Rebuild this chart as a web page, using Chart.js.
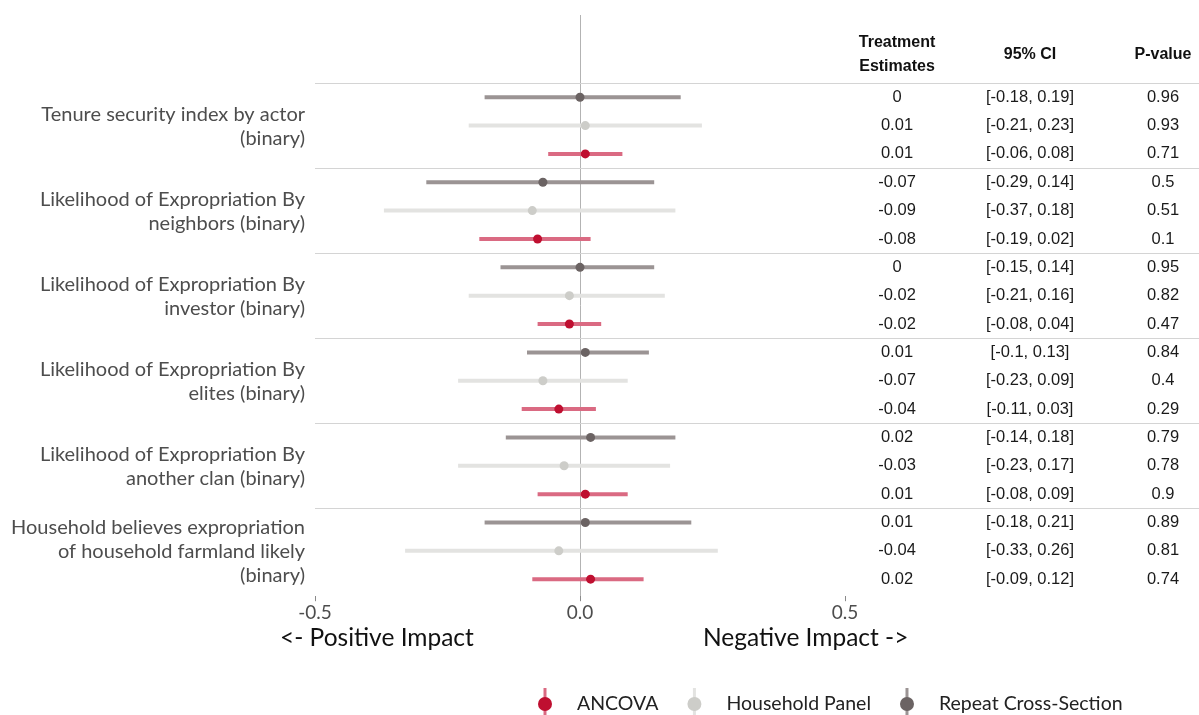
<!DOCTYPE html>
<html lang="en">
<head>
<meta charset="UTF-8">
<title>Treatment estimates</title>
<style>
  html, body { margin: 0; padding: 0; background: #fff; }
  #wrap { width: 1199px; height: 715px; position: relative; }
</style>
</head>
<body>
<div id="wrap"><canvas id="forest"></canvas></div>
<script src="https://cdn.jsdelivr.net/npm/chart.js"></script>
<script>
// outcomes, top to bottom (label lines)
const outcomes = [
  ['Tenure security index by actor', '(binary)'],
  ['Likelihood of Expropriation By', 'neighbors (binary)'],
  ['Likelihood of Expropriation By', 'investor (binary)'],
  ['Likelihood of Expropriation By', 'elites (binary)'],
  ['Likelihood of Expropriation By', 'another clan (binary)'],
  ['Household believes expropriation', 'of household farmland likely', '(binary)']
];

// Repeat Cross-Section (top row of each group)
const rcsEst  = [0, -0.07, 0, 0.01, 0.02, 0.01];
const rcsLow  = [-0.18, -0.29, -0.15, -0.1, -0.14, -0.18];
const rcsHigh = [0.19, 0.14, 0.14, 0.13, 0.18, 0.21];
const rcsP    = [0.96, 0.5, 0.95, 0.84, 0.79, 0.89];

// Household Panel (middle row)
const hpEst  = [0.01, -0.09, -0.02, -0.07, -0.03, -0.04];
const hpLow  = [-0.21, -0.37, -0.21, -0.23, -0.23, -0.33];
const hpHigh = [0.23, 0.18, 0.16, 0.09, 0.17, 0.26];
const hpP    = [0.93, 0.51, 0.82, 0.4, 0.78, 0.81];

// ANCOVA (bottom row)
const ancEst  = [0.01, -0.08, -0.02, -0.04, 0.01, 0.02];
const ancLow  = [-0.06, -0.19, -0.08, -0.11, -0.08, -0.09];
const ancHigh = [0.08, 0.02, 0.04, 0.03, 0.09, 0.12];
const ancP    = [0.71, 0.1, 0.47, 0.29, 0.9, 0.74];

const xTicks = [-0.5, 0, 0.5];
const tableHeads = [['Treatment', 'Estimates'], ['95% CI'], ['P-value']];

const series = [
  { name: 'Repeat Cross-Section', est: rcsEst, low: rcsLow, high: rcsHigh, p: rcsP, offset: 0, dot: '#6b6363', bar: '#9b9494' },
  { name: 'Household Panel', est: hpEst, low: hpLow, high: hpHigh, p: hpP, offset: 1, dot: '#cdcdc9', bar: '#e3e3e1' },
  { name: 'ANCOVA', est: ancEst, low: ancLow, high: ancHigh, p: ancP, offset: 2, dot: '#bf0f30', bar: '#da6a82' }
];
const legendOrder = [2, 1, 0];

function rowOf(g, s) { return g * 3 + s.offset + 1; }

const datasets = [];
series.forEach(s => {
  const seg = [];
  s.est.forEach((v, g) => {
    seg.push({ x: s.low[g], y: rowOf(g, s) });
    seg.push({ x: s.high[g], y: rowOf(g, s) });
    seg.push({ x: null, y: null });
  });
  datasets.push({
    label: s.name + ' CI', data: seg, showLine: true, spanGaps: false,
    borderColor: s.bar, borderWidth: 4, pointRadius: 0, order: 1
  });
  datasets.push({
    label: s.name, data: s.est.map((v, g) => ({ x: v, y: rowOf(g, s) })),
    backgroundColor: s.dot, borderWidth: 0, pointRadius: 4.5, order: 0
  });
});

const tableX = [897, 1030, 1163];
const textFont = '"Liberation Sans", Arial, sans-serif';

const decorations = {
  id: 'decorations',
  beforeDatasetsDraw(chart) {
    const { ctx, scales: { x, y } } = chart;
    ctx.save();
    ctx.strokeStyle = '#d4d4d4';
    ctx.lineWidth = 1.2;
    for (let g = 0; g < outcomes.length; g++) {
      const py = Math.round(y.getPixelForValue(g * 3 + 0.5)) + 0.5;
      ctx.beginPath();
      ctx.moveTo(x.left, py);
      ctx.lineTo(chart.width, py);
      ctx.stroke();
    }
    ctx.restore();
  },
  afterDraw(chart) {
    const { ctx, scales: { x, y } } = chart;
    ctx.save();

    // outcome labels
    ctx.font = '20px Lato';
    ctx.fillStyle = '#4d4d4d';
    ctx.textAlign = 'right';
    ctx.textBaseline = 'middle';
    outcomes.forEach((lines, g) => {
      const cy = y.getPixelForValue(g * 3 + 2) + 1;
      const lh = 24;
      lines.forEach((t, i) => {
        ctx.fillText(t, 305, cy + (i - (lines.length - 1) / 2) * lh);
      });
    });

    // table header
    ctx.font = 'bold 16px ' + textFont;
    ctx.fillStyle = '#111';
    ctx.textAlign = 'center';
    tableHeads.forEach((lines, c) => {
      lines.forEach((t, i) => {
        ctx.fillText(t, tableX[c], 55 + (i - (lines.length - 1) / 2) * 24);
      });
    });

    // table values
    ctx.font = '16.5px ' + textFont;
    ctx.fillStyle = '#1a1a1a';
    series.forEach(s => {
      s.est.forEach((v, g) => {
        const py = y.getPixelForValue(rowOf(g, s));
        ctx.fillText(String(v), tableX[0], py);
        ctx.fillText('[' + s.low[g] + ', ' + s.high[g] + ']', tableX[1], py);
        ctx.fillText(String(s.p[g]), tableX[2], py);
      });
    });

    // direction captions
    ctx.font = '24.5px Lato';
    ctx.fillStyle = '#111';
    ctx.textAlign = 'left';
    ctx.fillText('<- Positive Impact', 280, 638);
    ctx.fillText('Negative Impact ->', 703, 638);

    // legend
    ctx.font = '19.5px Lato';
    let lx = 545;
    const ly = 704;
    legendOrder.forEach(i => {
      const s = series[i];
      ctx.strokeStyle = s.bar;
      ctx.lineWidth = 3;
      ctx.beginPath();
      ctx.moveTo(lx, ly - 16);
      ctx.lineTo(lx, ly + 16);
      ctx.stroke();
      ctx.fillStyle = s.dot;
      ctx.beginPath();
      ctx.arc(lx, ly, 7, 0, Math.PI * 2);
      ctx.fill();
      ctx.fillStyle = '#222';
      ctx.fillText(s.name, lx + 32, ly);
      lx += 32 + ctx.measureText(s.name).width + 36;
    });

    ctx.restore();
  }
};

new Chart(document.getElementById('forest'), {
  type: 'scatter',
  data: { datasets },
  plugins: [decorations],
  options: {
    responsive: true,
    maintainAspectRatio: false,
    animation: false,
    layout: { padding: { left: 315, right: 354, top: 15, bottom: 91 } },
    plugins: { legend: { display: false }, tooltip: { enabled: false } },
    scales: {
      x: {
        min: -0.5, max: 0.5,
        afterBuildTicks: axis => { axis.ticks = xTicks.map(v => ({ value: v })); },
        ticks: {
          font: { family: 'Lato', size: 19 },
          color: '#4d4d4d',
          padding: 0,
          callback: v => v.toFixed(1)
        },
        grid: {
          color: c => (c.tick && c.tick.value === 0) ? '#b3b3b3' : 'rgba(0,0,0,0)',
          tickColor: '#8a8a8a',
          tickLength: 5,
          lineWidth: 1
        },
        border: { display: false }
      },
      y: {
        display: false,
        reverse: true,
        min: -1.9, max: 18.6
      }
    }
  }
});
</script>
</body>
</html>
